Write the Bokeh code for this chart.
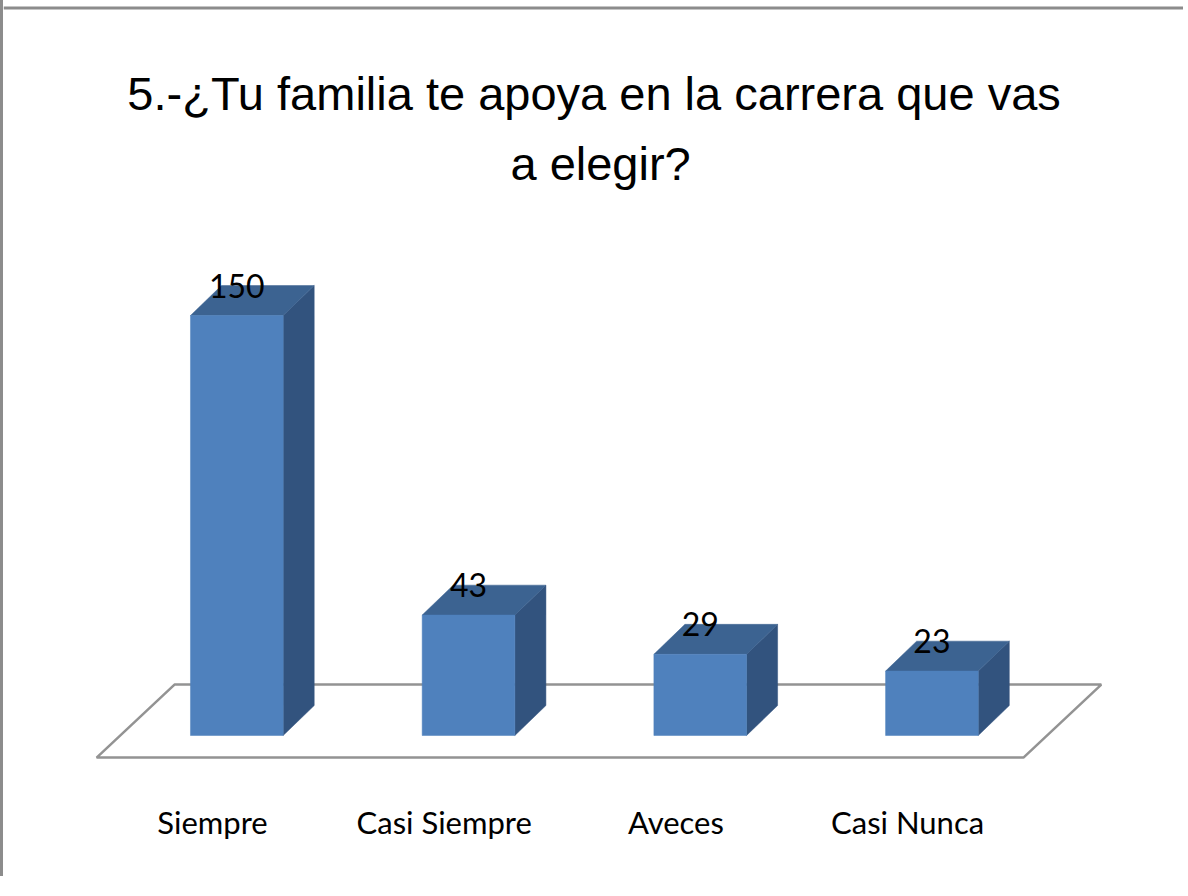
from bokeh.plotting import figure
from bokeh.models import Range1d, FixedTicker, Label, ColumnDataSource, Span
from bokeh.core.properties import value
from bokeh.embed import file_html
from bokeh.resources import INLINE

# ---- data ----
categories = ["Siempre", "Casi Siempre", "Aveces", "Casi Nunca"]
counts = [150, 43, 29, 23]
title_lines = ["5.-\u00bfTu familia te apoya  en la carrera que vas", "a elegir?"]

# ---- style / geometry constants ----
TITLE_FONT = "Liberation Sans"
LABEL_FONT = "Lato"
FRONT = "#4F81BD"
TOP = "#3C6391"
SIDE = "#32537E"
BAR_OFFSET = 0.105     # bar centre relative to category label
HALF_W = 0.2           # half bar width (x units)
DEPTH_X = 0.134        # 3D depth offset in x units
DEPTH_Y = 10.7         # 3D depth offset in value units

p = figure(
    frame_width=1180, frame_height=801,
    x_range=Range1d(-0.902, 4.1908), y_range=Range1d(-23.57, 262.5),
    output_backend="svg", toolbar_location=None, y_axis_location=None,
    min_border_left=0, min_border_right=0, min_border_top=0, min_border_bottom=75,
    background_fill_color="white", border_fill_color="white",
)
p.styles = {"border-left": "3px solid #8c8c8c"}
p.outline_line_color = None
p.grid.visible = False

# top frame border of the chart area
p.add_layout(Span(location=259.8, dimension="width", line_color="#8c8c8c", line_width=3))

n = len(categories)
# floor (parallelogram) spanning category bands
fl_front_y, fl_back_y = -7.9, 18.2
fl_shift = 0.336
p.patch([-0.5, n - 0.5, n - 0.5 + fl_shift, -0.5 + fl_shift],
        [fl_front_y, fl_front_y, fl_back_y, fl_back_y],
        fill_color="white", line_color="#939393", line_width=2.5)

# 3D bars built from counts
centers = [i + BAR_OFFSET for i in range(n)]
src = ColumnDataSource(dict(
    left=[c - HALF_W for c in centers], right=[c + HALF_W for c in centers],
    top=counts, bottom=[0] * n,
))
side_xs, side_ys, top_xs, top_ys = [], [], [], []
for c, v in zip(centers, counts):
    r = c + HALF_W
    l = c - HALF_W
    side_xs.append([r, r + DEPTH_X, r + DEPTH_X, r])
    side_ys.append([0, DEPTH_Y, v + DEPTH_Y, v])
    top_xs.append([l, r, r + DEPTH_X, l + DEPTH_X])
    top_ys.append([v, v, v + DEPTH_Y, v + DEPTH_Y])
p.patches(side_xs, side_ys, fill_color=SIDE, line_color=SIDE, line_width=0.5)
p.patches(top_xs, top_ys, fill_color=TOP, line_color=TOP, line_width=0.5)
p.quad(left="left", right="right", top="top", bottom="bottom", source=src,
       fill_color=FRONT, line_color=FRONT, line_width=0.5)

# value labels
p.text(x=centers, y=[v + DEPTH_Y for v in counts], text=[str(v) for v in counts],
       text_align="center", text_baseline="alphabetic",
       text_font=value(LABEL_FONT), text_font_size="32px", text_color="black")

# title
for txt, yy in zip(title_lines, [229.3, 204.3]):
    p.add_layout(Label(x=1.675, y=yy, text=txt, text_align="center",
                       text_baseline="alphabetic", text_font=TITLE_FONT,
                       text_font_size="47px", text_color="black"))

# category axis
ax = p.xaxis[0]
ax.ticker = FixedTicker(ticks=list(range(n)))
ax.major_label_overrides = {i: cat for i, cat in enumerate(categories)}
ax.axis_line_color = None
ax.major_tick_line_color = None
ax.minor_tick_line_color = None
ax.major_tick_out = 0
ax.major_tick_in = 0
ax.major_label_standoff = 1
ax.major_label_text_font = LABEL_FONT
ax.major_label_text_font_size = "31px"
ax.major_label_text_color = "black"

open("out.html", "w").write(file_html(p, INLINE))
